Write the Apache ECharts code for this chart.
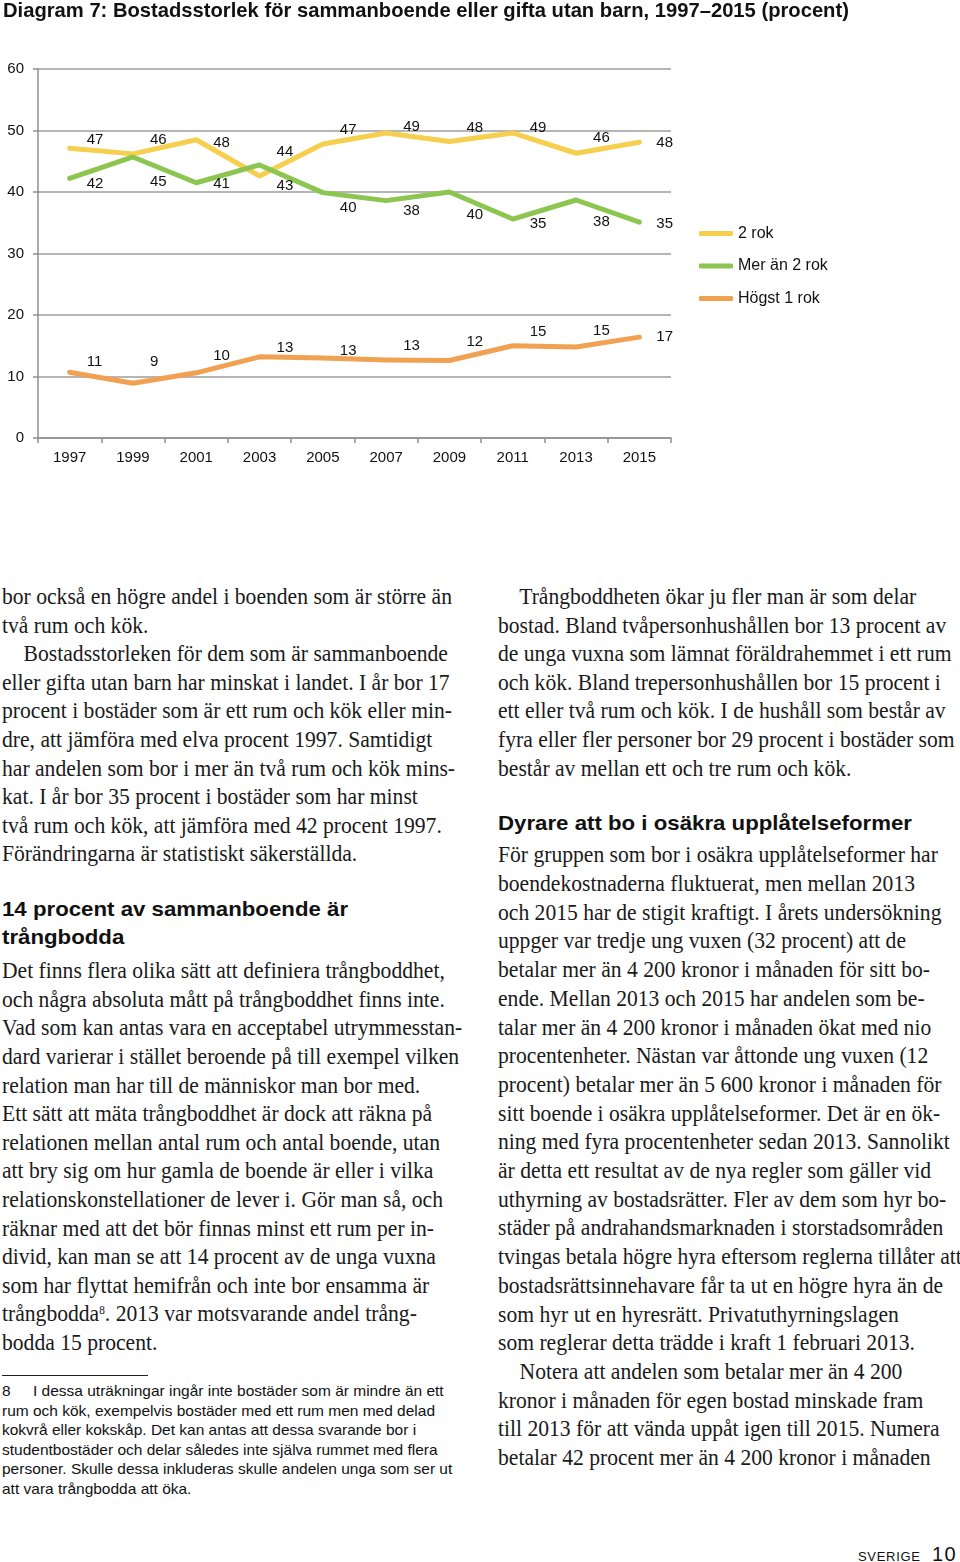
<!DOCTYPE html>
<html>
<head>
<meta charset="utf-8">
<script src="https://cdn.jsdelivr.net/npm/echarts@6/dist/echarts.min.js"></script>
<style>
  html, body { margin:0; padding:0; background:#fff; }
  body { width:960px; height:1562px; position:relative; overflow:hidden; color:#1a1a1a; }
  #chart { position:absolute; left:0; top:0; width:960px; height:520px; }
  .blk { position:absolute; white-space:pre; transform-origin:0 0; }
  .serif { font-family:"Liberation Serif", serif; font-size:23px; line-height:28.6px; color:#1a1a1a; }
  .head { font-family:"Liberation Sans", Arial, sans-serif; font-weight:bold; font-size:21px; line-height:28px; color:#111; }
  .foot { font-family:"Liberation Sans", Arial, sans-serif; font-size:15px; line-height:19.6px; color:#111; }
  .sup { font-size:12px; vertical-align:7px; line-height:0; }
  .fn { display:inline-block; width:30px; }
</style>
</head>
<body>
<div id="chart"></div>

<div class="blk serif" id="l1" style="left:2px; top:583px;">bor också en högre andel i boenden som är större än
två rum och kök.
    Bostadsstorleken för dem som är sammanboende
eller gifta utan barn har minskat i landet. I år bor 17
procent i bostäder som är ett rum och kök eller min-
dre, att jämföra med elva procent 1997. Samtidigt
har andelen som bor i mer än två rum och kök mins-
kat. I år bor 35 procent i bostäder som har minst
två rum och kök, att jämföra med 42 procent 1997.
Förändringarna är statistiskt säkerställda.</div>

<div class="blk head" id="h1" style="left:2px; top:894.7px;">14 procent av sammanboende är
trångbodda</div>

<div class="blk serif" id="l2" style="left:2px; top:957.3px;">Det finns flera olika sätt att definiera trångboddhet,
och några absoluta mått på trångboddhet finns inte.
Vad som kan antas vara en acceptabel utrymmesstan-
dard varierar i stället beroende på till exempel vilken
relation man har till de människor man bor med.
Ett sätt att mäta trångboddhet är dock att räkna på
relationen mellan antal rum och antal boende, utan
att bry sig om hur gamla de boende är eller i vilka
relationskonstellationer de lever i. Gör man så, och
räknar med att det bör finnas minst ett rum per in-
divid, kan man se att 14 procent av de unga vuxna
som har flyttat hemifrån och inte bor ensamma är
trångbodda<span class="sup">8</span>. 2013 var motsvarande andel trång-
bodda 15 procent.</div>

<div style="position:absolute; left:2px; top:1375px; width:146px; height:1px; background:#222;"></div>

<div class="blk foot" id="fn" style="left:2px; top:1381px;"><span class="fn">8</span>I dessa uträkningar ingår inte bostäder som är mindre än ett
rum och kök, exempelvis bostäder med ett rum men med delad
kokvrå eller kokskåp. Det kan antas att dessa svarande bor i
studentbostäder och delar således inte själva rummet med flera
personer. Skulle dessa inkluderas skulle andelen unga som ser ut
att vara trångbodda att öka.</div>

<div class="blk serif" id="r1" style="left:498px; top:583px;">    Trångboddheten ökar ju fler man är som delar
bostad. Bland tvåpersonhushållen bor 13 procent av
de unga vuxna som lämnat föräldrahemmet i ett rum
och kök. Bland trepersonhushållen bor 15 procent i
ett eller två rum och kök. I de hushåll som består av
fyra eller fler personer bor 29 procent i bostäder som
består av mellan ett och tre rum och kök.</div>

<div class="blk head" id="h2" style="left:498px; top:808.7px;">Dyrare att bo i osäkra upplåtelseformer</div>

<div class="blk serif" id="r2" style="left:498px; top:841.3px; line-height:28.7px;">För gruppen som bor i osäkra upplåtelseformer har
boendekostnaderna fluktuerat, men mellan 2013
och 2015 har de stigit kraftigt. I årets undersökning
uppger var tredje ung vuxen (32 procent) att de
betalar mer än 4 200 kronor i månaden för sitt bo-
ende. Mellan 2013 och 2015 har andelen som be-
talar mer än 4 200 kronor i månaden ökat med nio
procentenheter. Nästan var åttonde ung vuxen (12
procent) betalar mer än 5 600 kronor i månaden för
sitt boende i osäkra upplåtelseformer. Det är en ök-
ning med fyra procentenheter sedan 2013. Sannolikt
är detta ett resultat av de nya regler som gäller vid
uthyrning av bostadsrätter. Fler av dem som hyr bo-
städer på andrahandsmarknaden i storstadsområden
tvingas betala högre hyra eftersom reglerna tillåter att
bostadsrättsinnehavare får ta ut en högre hyra än de
som hyr ut en hyresrätt. Privatuthyrningslagen
som reglerar detta trädde i kraft 1 februari 2013.
    Notera att andelen som betalar mer än 4 200
kronor i månaden för egen bostad minskade fram
till 2013 för att vända uppåt igen till 2015. Numera
betalar 42 procent mer än 4 200 kronor i månaden</div>

<div style="position:absolute; left:858px; top:1549px; font-family:'Liberation Sans',Arial,sans-serif; font-size:13px; letter-spacing:0.7px; color:#111;">SVERIGE</div>
<div style="position:absolute; left:932px; top:1542.6px; font-family:'Liberation Sans',Arial,sans-serif; font-size:20px; letter-spacing:1.5px; color:#111;">10</div>

<script>
// ---- data ----
const years = ['1997', '1999', '2001', '2003', '2005', '2007', '2009', '2011', '2013', '2015'];
const seriesNames = ['2 rok', 'Mer än 2 rok', 'Högst 1 rok'];
const rok2 = [47.1, 46.2, 48.5, 42.6, 47.8, 49.6, 48.2, 49.6, 46.3, 48.1];
const merAn2 = [42.2, 45.7, 41.5, 44.4, 39.9, 38.6, 40.0, 35.6, 38.7, 35.1];
const hogst1 = [10.7, 8.9, 10.6, 13.2, 13.0, 12.7, 12.6, 15.0, 14.8, 16.4];
const rok2Labels = ['47', '46', '48', '44', '47', '49', '48', '49', '46', '48'];
const merAn2Labels = ['42', '45', '41', '43', '40', '38', '40', '35', '38', '35'];
const hogst1Labels = ['11', '9', '10', '13', '13', '13', '12', '15', '15', '17'];
const yTicks = ['0', '10', '20', '30', '40', '50', '60'];

// ---- styles ----
const colors = ['#F6CF4E', '#8DC551', '#F1A152'];
const labelDy = [
  [-8, -14, 3, -24, -14, -6, -14, -5, -15, 1],
  [5, 25, 1.5, 21, 15, 10, 23, 5, 22, 2],
  [-10.5, -21.6, -17, -8.5, -7.3, -14, -19, -13.4, -16, -0.4]
];
const FONT = '"Liberation Sans", Arial, Helvetica, sans-serif';

function build(values, labels, dys) {
  return values.map((v, i) => ({
    value: v,
    label: { offset: [0, dys[i]], formatter: labels[i] }
  }));
}
function mkSeries(idx, values, labels) {
  return {
    name: seriesNames[idx],
    type: 'line',
    data: build(values, labels, labelDy[idx]),
    symbol: 'circle',
    symbolSize: 2,
    showSymbol: true,
    itemStyle: { color: colors[idx] },
    lineStyle: { color: colors[idx], width: 5, cap: 'round', join: 'round' },
    label: { show: true, position: 'right', distance: 16, color: '#111', fontSize: 15, fontFamily: FONT },
    emphasis: { disabled: true },
    animation: false
  };
}

const chart = echarts.init(document.getElementById('chart'), null, { renderer: 'canvas' });
chart.setOption({
  animation: false,
  title: {
    text: 'Diagram 7: Bostadsstorlek för sammanboende eller gifta utan barn, 1997–2015 (procent)',
    left: 3, top: 0, padding: 0,
    textStyle: { fontFamily: FONT, fontWeight: 'bold', fontSize: 20.2, color: '#111', lineHeight: 22 }
  },
  legend: {
    orient: 'vertical',
    left: 694, top: 220,
    icon: 'roundRect',
    itemWidth: 34, itemHeight: 5,
    itemGap: 15.5,
    data: seriesNames,
    textStyle: { fontFamily: FONT, fontSize: 16, color: '#111', lineHeight: 17 },
    selectedMode: false
  },
  grid: { left: 38, top: 69, width: 633, height: 369, containLabel: false },
  xAxis: {
    type: 'category',
    data: years,
    boundaryGap: true,
    axisLine: { lineStyle: { color: '#8f8f8f', width: 1.5 } },
    axisTick: { show: true, length: 5, alignWithLabel: false, lineStyle: { color: '#8f8f8f', width: 1.5 } },
    axisLabel: { fontFamily: FONT, fontSize: 15, color: '#111', margin: 12 },
    splitLine: { show: false }
  },
  yAxis: {
    type: 'value',
    min: 0, max: 60, interval: 10,
    axisLine: { show: true, lineStyle: { color: '#8f8f8f', width: 1.5 } },
    axisTick: { show: true, length: 5, lineStyle: { color: '#8f8f8f', width: 1.5 } },
    axisLabel: { fontFamily: FONT, fontSize: 15, color: '#111', margin: 14,
      formatter: (v) => yTicks[Math.round(v / 10)] },
    splitLine: { show: true, lineStyle: { color: '#9c9c9c', width: 1.5 } }
  },
  series: [
    mkSeries(0, rok2, rok2Labels),
    mkSeries(1, merAn2, merAn2Labels),
    mkSeries(2, hogst1, hogst1Labels)
  ]
});

// fit text blocks horizontally to the reference line widths
const cv = document.createElement('canvas').getContext('2d');
function scaleFor(font, ref, target) {
  cv.font = font;
  return target / cv.measureText(ref).width;
}
const sSerif = scaleFor('23px "Liberation Serif"', 'bor också en högre andel i boenden som är större än', 450);
const sHead = scaleFor('bold 21px "Liberation Sans"', 'Dyrare att bo i osäkra upplåtelseformer', 414);
const sFoot = scaleFor('15px "Liberation Sans"', 'rum och kök, exempelvis bostäder med ett rum men med delad', 433);
['l1', 'l2', 'r1', 'r2'].forEach(id => document.getElementById(id).style.transform = 'scaleX(' + sSerif + ')');
['h1', 'h2'].forEach(id => document.getElementById(id).style.transform = 'scaleX(' + sHead + ')');
document.getElementById('fn').style.transform = 'scaleX(' + sFoot + ')';
</script>
</body>
</html>
